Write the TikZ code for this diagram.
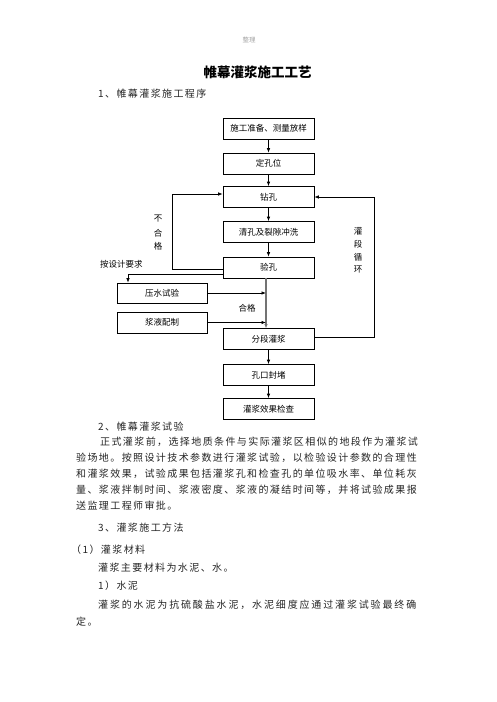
\documentclass[tikz,border=0pt]{standalone}
\usepackage{fontspec}
\usetikzlibrary{arrows.meta}
\newfontfamily\cjk{Noto Sans CJK SC}
\newfontfamily\cjkbody{Noto Sans CJK SC}[LetterSpace=14]
\newfontfamily\cjkwide{Noto Sans CJK SC}[LetterSpace=18.5]
\begin{document}
\begin{tikzpicture}[x=1pt,y=-1pt,
  box/.style={draw, line width=0.7pt, minimum width=91pt, minimum height=21pt, inner sep=0pt, font=\cjk\fontsize{8.5}{10}\selectfont},
  lbl/.style={inner sep=0pt, font=\cjk\fontsize{8.5}{10}\selectfont},
  body/.style={inner sep=0pt, anchor=west, font=\cjkbody\fontsize{10}{12}\selectfont, text=black!85},
  arr/.style={line width=0.7pt, -{Latex[length=4.5pt,width=3.5pt]}},
  mainline/.style={line width=1.1pt, draw=black!55}]
\path[use as bounding box, fill=white] (0,0) rectangle (496,702);

% header
\node[inner sep=0pt, font=\cjk\fontsize{6.5}{8}\selectfont, text=black!35] (hdr) at (249,40) {整理};
\node[inner sep=0pt, font=\cjk\bfseries\fontsize{13.5}{16}\selectfont] (title) at (257.5,72) {帷幕灌浆施工工艺};
\node[body] (h1) at (98,94) {1、帷幕灌浆施工程序};

% flowchart boxes
\node[box] (b1) at (268.5,128.5) {施工准备、测量放样};
\node[box] (b2) at (268.5,163.5) {定孔位};
\node[box] (b3) at (268.5,197) {钻孔};
\node[box] (b4) at (268.5,232) {清孔及裂隙冲洗};
\node[box] (b5) at (268.5,267.5) {验孔};
\node[box] (b6) at (268.5,339) {分段灌浆};
\node[box] (b7) at (268.5,375) {孔口封堵};
\node[box] (b8) at (268.5,409) {灌浆效果检查};
\node[box, minimum width=90pt, minimum height=20pt] (p) at (162,293) {压水试验};
\node[box, minimum width=90pt] (j) at (162,322.5) {浆液配制};

% straight arrows
\draw[arr] (b1) -- (b2);
\draw[arr] (b2) -- (b3);
\draw[arr] (b3) -- (b4);
\draw[arr] (b4) -- (b5);
\draw[arr] (b6) -- (b7);
\draw[arr] (b7) -- (b8);

% main vertical line
\coordinate (mtop) at (266,278);
\coordinate (mbot) at (266,328.5);
\draw[mainline, -{Latex[length=4.5pt,width=3.5pt]}] (mtop) -- (mbot);
\draw[arr] (p.east) -- (p.east -| mtop);
\draw[arr] (j.east) -- (j.east -| mtop);

% left loop (不合格)
\coordinate (l1) at (172,269);
\coordinate (l2) at (172,194);
\draw[arr] (b5.west |- l1) -- (l1) -- (l2) -- (b3.west |- l2);

% to 压水试验
\coordinate (q1) at (128,274);
\draw[arr] (b5.west |- q1) -- (q1) -- (q1 |- p.north);

% right loop (灌段循环)
\coordinate (r1) at (374,337);
\draw[arr] (b6.east |- r1) -- (r1) -- (r1 |- b3.east) -- (b3.east);

% labels
\node[lbl] (n1) at (158,219) {不};
\node[lbl] (n2) at (158,233) {合};
\node[lbl] (n3) at (158,246) {格};
\node[lbl, anchor=west] (req) at (100,264) {按设计要求};
\node[lbl] (ok) at (247,308) {合格};
\node[lbl] (c1) at (358,231) {灌};
\node[lbl] (c2) at (358,244) {段};
\node[lbl] (c3) at (358,257) {循};
\node[lbl] (c4) at (358,270) {环};

% body text
\node[body] (s2) at (98,427) {2、帷幕灌浆试验};
\node[body] (t1) at (100,442) {正式灌浆前，选择地质条件与实际灌浆区相似的地段作为灌浆试};
\node[body] (t2) at (76,458) {验场地。按照设计技术参数进行灌浆试验，以检验设计参数的合理性};
\node[body] (t3) at (76,474) {和灌浆效果，试验成果包括灌浆孔和检查孔的单位吸水率、单位耗灰};
\node[body] (t4) at (76,490) {量、浆液拌制时间、浆液密度、浆液的凝结时间等，并将试验成果报};
\node[body] (t5) at (76,506) {送监理工程师审批。};
\node[body] (s3) at (98,528) {3、灌浆施工方法};
\node[body] (s31) at (71,550) {（1）灌浆材料};
\node[body] (t6) at (98,568) {灌浆主要材料为水泥、水。};
\node[body] (s311) at (98,586) {1）水泥};
\node[body, font=\cjkwide\fontsize{10}{12}\selectfont] (t7) at (98,605) {灌浆的水泥为抗硫酸盐水泥，水泥细度应通过灌浆试验最终确};
\node[body] (t8) at (76,622) {定。};
\end{tikzpicture}
\end{document}
